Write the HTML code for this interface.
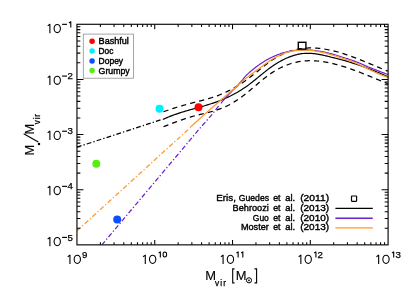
<!DOCTYPE html>
<html><head><meta charset="utf-8"><title>plot</title>
<style>
html,body{margin:0;padding:0;background:#fff;}
svg{display:block;will-change:transform;}
text{font-family:"Liberation Sans",sans-serif;fill:#000;}
</style></head><body>
<svg width="411" height="294" viewBox="0 0 411 294">
<rect width="411" height="294" fill="#fff"/>
<!-- curves -->
<g fill="none" stroke-linecap="butt" stroke-linejoin="round">
<path d="M76.90,147.20 L161.00,119.80" stroke="#000" stroke-width="1.25" stroke-dasharray="4.8 2.15 1.3 2.14"/>
<path d="M76.90,230.90 L188.00,129.70" stroke="#ff9a2e" stroke-width="1.25" stroke-dasharray="4.8 2.15 1.3 2.14" stroke-dashoffset="-0.18"/>
<path d="M102.10,244.60 L200.50,127.60 L211.70,114.90 L219.90,104.40" stroke="#6a22cc" stroke-width="1.25" stroke-dasharray="4.8 2.15 1.3 2.14" stroke-dashoffset="0.47"/>
<path d="M163.50,111.77 L164.91,111.26 L166.32,110.76 L167.73,110.27 L169.14,109.78 L170.55,109.31 L171.96,108.84 L173.37,108.38 L174.79,107.93 L176.20,107.49 L177.61,107.06 L179.02,106.63 L180.43,106.21 L181.84,105.80 L183.25,105.39 L184.66,104.99 L186.07,104.60 L187.48,104.21 L188.89,103.82 L190.30,103.45 L191.71,103.07 L193.12,102.70 L194.54,102.34 L195.95,101.98 L197.36,101.62 L198.77,101.26 L200.18,100.90 L201.59,100.53 L203.00,100.16 L204.41,99.78 L205.82,99.40 L207.23,99.00 L208.64,98.59 L210.05,98.17 L211.46,97.74 L212.87,97.29 L214.28,96.83 L215.70,96.34 L217.11,95.83 L218.52,95.30 L219.93,94.75 L221.34,94.18 L222.75,93.58 L224.16,92.95 L225.57,92.30 L226.98,91.63 L228.39,90.93 L229.80,90.21 L231.21,89.47 L232.62,88.70 L234.03,87.90 L235.45,87.09 L236.86,86.25 L238.27,85.38 L239.68,84.49 L241.09,83.58 L242.50,82.65 L243.91,81.69 L245.32,80.71 L246.73,79.70 L248.14,78.67 L249.55,77.62 L250.96,76.54 L252.37,75.45 L253.78,74.33 L255.19,73.20 L256.61,72.06 L258.02,70.91 L259.43,69.77 L260.84,68.62 L262.25,67.49 L263.66,66.36 L265.07,65.25 L266.48,64.16 L267.89,63.09 L269.30,62.05 L270.71,61.04 L272.12,60.07 L273.53,59.14 L274.94,58.25 L276.36,57.41 L277.77,56.60 L279.18,55.83 L280.59,55.10 L282.00,54.42 L283.41,53.77 L284.82,53.16 L286.23,52.58 L287.64,52.04 L289.05,51.54 L290.46,51.08 L291.87,50.64 L293.28,50.25 L294.69,49.88 L296.11,49.55 L297.52,49.26 L298.93,48.99 L300.34,48.76 L301.75,48.55 L303.16,48.38 L304.57,48.24 L305.98,48.12 L307.39,48.04 L308.80,47.98 L310.21,47.95 L311.62,47.95 L313.03,47.97 L314.44,48.02 L315.85,48.09 L317.27,48.18 L318.68,48.31 L320.09,48.45 L321.50,48.62 L322.91,48.81 L324.32,49.02 L325.73,49.25 L327.14,49.50 L328.55,49.77 L329.96,50.06 L331.37,50.37 L332.78,50.69 L334.19,51.04 L335.60,51.40 L337.02,51.77 L338.43,52.17 L339.84,52.57 L341.25,53.00 L342.66,53.43 L344.07,53.88 L345.48,54.34 L346.89,54.82 L348.30,55.30 L349.71,55.80 L351.12,56.30 L352.53,56.82 L353.94,57.35 L355.35,57.88 L356.76,58.42 L358.18,58.97 L359.59,59.53 L361.00,60.09 L362.41,60.66 L363.82,61.23 L365.23,61.81 L366.64,62.39 L368.05,62.97 L369.46,63.56 L370.87,64.15 L372.28,64.74 L373.69,65.33 L375.10,65.93 L376.51,66.52 L377.93,67.11 L379.34,67.70 L380.75,68.29 L382.16,68.87 L383.57,69.45 L384.98,70.03 L386.39,70.61 L387.80,71.18" stroke="#000" stroke-width="1.25" stroke-dasharray="5.2 4.1"/>
<path d="M163.50,126.75 L164.91,126.20 L166.32,125.64 L167.73,125.09 L169.14,124.54 L170.55,123.99 L171.96,123.44 L173.37,122.90 L174.79,122.37 L176.20,121.84 L177.61,121.32 L179.02,120.80 L180.43,120.30 L181.84,119.80 L183.25,119.32 L184.66,118.84 L186.07,118.38 L187.48,117.92 L188.89,117.48 L190.30,117.06 L191.71,116.65 L193.12,116.25 L194.54,115.87 L195.95,115.50 L197.36,115.14 L198.77,114.79 L200.18,114.44 L201.59,114.10 L203.00,113.76 L204.41,113.42 L205.82,113.07 L207.23,112.72 L208.64,112.36 L210.05,111.99 L211.46,111.61 L212.87,111.22 L214.28,110.80 L215.70,110.37 L217.11,109.92 L218.52,109.44 L219.93,108.94 L221.34,108.41 L222.75,107.85 L224.16,107.25 L225.57,106.62 L226.98,105.95 L228.39,105.25 L229.80,104.50 L231.21,103.72 L232.62,102.89 L234.03,102.03 L235.45,101.14 L236.86,100.22 L238.27,99.26 L239.68,98.28 L241.09,97.26 L242.50,96.22 L243.91,95.15 L245.32,94.06 L246.73,92.95 L248.14,91.82 L249.55,90.67 L250.96,89.50 L252.37,88.31 L253.78,87.12 L255.19,85.93 L256.61,84.73 L258.02,83.53 L259.43,82.34 L260.84,81.16 L262.25,80.00 L263.66,78.86 L265.07,77.73 L266.48,76.64 L267.89,75.58 L269.30,74.55 L270.71,73.56 L272.12,72.61 L273.53,71.70 L274.94,70.83 L276.36,70.00 L277.77,69.21 L279.18,68.46 L280.59,67.74 L282.00,67.07 L283.41,66.43 L284.82,65.82 L286.23,65.26 L287.64,64.73 L289.05,64.23 L290.46,63.77 L291.87,63.34 L293.28,62.95 L294.69,62.59 L296.11,62.27 L297.52,61.97 L298.93,61.71 L300.34,61.48 L301.75,61.28 L303.16,61.11 L304.57,60.98 L305.98,60.87 L307.39,60.79 L308.80,60.74 L310.21,60.72 L311.62,60.72 L313.03,60.75 L314.44,60.81 L315.85,60.89 L317.27,61.00 L318.68,61.13 L320.09,61.29 L321.50,61.46 L322.91,61.66 L324.32,61.88 L325.73,62.11 L327.14,62.37 L328.55,62.65 L329.96,62.94 L331.37,63.25 L332.78,63.58 L334.19,63.92 L335.60,64.28 L337.02,64.65 L338.43,65.04 L339.84,65.44 L341.25,65.85 L342.66,66.28 L344.07,66.72 L345.48,67.17 L346.89,67.63 L348.30,68.10 L349.71,68.58 L351.12,69.07 L352.53,69.57 L353.94,70.08 L355.35,70.60 L356.76,71.13 L358.18,71.66 L359.59,72.20 L361.00,72.75 L362.41,73.31 L363.82,73.87 L365.23,74.43 L366.64,75.00 L368.05,75.58 L369.46,76.16 L370.87,76.74 L372.28,77.33 L373.69,77.91 L375.10,78.50 L376.51,79.10 L377.93,79.69 L379.34,80.28 L380.75,80.88 L382.16,81.47 L383.57,82.07 L384.98,82.66 L386.39,83.25 L387.80,83.84" stroke="#000" stroke-width="1.25" stroke-dasharray="5.2 4.1"/>
<path d="M162.80,119.50 L164.22,118.83 L165.64,118.20 L167.05,117.58 L168.47,116.99 L169.89,116.42 L171.31,115.86 L172.72,115.33 L174.14,114.81 L175.56,114.31 L176.98,113.82 L178.39,113.34 L179.81,112.88 L181.23,112.44 L182.65,112.00 L184.06,111.57 L185.48,111.15 L186.90,110.73 L188.32,110.33 L189.73,109.93 L191.15,109.53 L192.57,109.13 L193.99,108.74 L195.41,108.35 L196.82,107.96 L198.24,107.56 L199.66,107.17 L201.08,106.77 L202.49,106.37 L203.91,105.96 L205.33,105.54 L206.75,105.12 L208.16,104.68 L209.58,104.24 L211.00,103.78 L212.42,103.32 L213.83,102.84 L215.25,102.34 L216.67,101.83 L218.09,101.31 L219.50,100.77 L220.92,100.21 L222.34,99.63 L223.76,99.03 L225.17,98.42 L226.59,97.78 L228.01,97.13 L229.43,96.45 L230.85,95.75 L232.26,95.03 L233.68,94.29 L235.10,93.52 L236.52,92.72 L237.93,91.91 L239.35,91.06 L240.77,90.19 L242.19,89.30 L243.60,88.37 L245.02,87.42 L246.44,86.44 L247.86,85.42 L249.27,84.38 L250.69,83.31 L252.11,82.21 L253.53,81.09 L254.94,79.95 L256.36,78.80 L257.78,77.64 L259.20,76.47 L260.62,75.30 L262.03,74.14 L263.45,72.99 L264.87,71.85 L266.29,70.73 L267.70,69.63 L269.12,68.56 L270.54,67.52 L271.96,66.51 L273.37,65.53 L274.79,64.59 L276.21,63.68 L277.63,62.81 L279.04,61.97 L280.46,61.17 L281.88,60.40 L283.30,59.67 L284.71,58.97 L286.13,58.31 L287.55,57.69 L288.97,57.11 L290.38,56.57 L291.80,56.07 L293.22,55.60 L294.64,55.18 L296.06,54.80 L297.47,54.46 L298.89,54.16 L300.31,53.90 L301.73,53.69 L303.14,53.52 L304.56,53.39 L305.98,53.31 L307.40,53.28 L308.81,53.28 L310.23,53.33 L311.65,53.42 L313.07,53.54 L314.48,53.69 L315.90,53.88 L317.32,54.09 L318.74,54.33 L320.15,54.59 L321.57,54.88 L322.99,55.18 L324.41,55.49 L325.83,55.82 L327.24,56.16 L328.66,56.50 L330.08,56.86 L331.50,57.21 L332.91,57.56 L334.33,57.92 L335.75,58.29 L337.17,58.65 L338.58,59.02 L340.00,59.40 L341.42,59.77 L342.84,60.16 L344.25,60.54 L345.67,60.94 L347.09,61.34 L348.51,61.75 L349.92,62.20 L351.34,62.66 L352.76,63.12 L354.18,63.58 L355.59,64.05 L357.01,64.53 L358.43,65.01 L359.85,65.50 L361.27,66.00 L362.68,66.50 L364.10,67.00 L365.52,67.52 L366.94,68.04 L368.35,68.58 L369.77,69.12 L371.19,69.67 L372.61,70.23 L374.02,70.80 L375.44,71.38 L376.86,71.96 L378.28,72.55 L379.69,73.14 L381.11,73.74 L382.53,74.36 L383.95,74.98 L385.36,75.62 L386.78,76.27 L388.20,76.93" stroke="#000" stroke-width="1.2"/>
<path d="M220.92,103.28 L221.70,102.34 L222.49,101.40 L223.28,100.46 L224.06,99.53 L224.85,98.66 L225.63,97.81 L226.42,96.95 L227.20,96.11 L227.99,95.27 L228.77,94.44 L229.56,93.61 L230.34,92.79 L231.13,91.98 L231.91,91.17 L232.70,90.38 L233.48,89.63 L234.27,88.88 L235.06,88.12 L235.84,87.35 L236.63,86.53 L237.41,85.68 L238.20,84.80 L238.98,83.91 L239.77,83.01 L240.55,82.11 L241.34,81.22 L242.12,80.31 L242.91,79.36 L243.69,78.37 L244.48,77.38 L245.27,76.43 L246.05,75.56 L246.84,74.80 L247.62,74.07 L248.41,73.36 L249.19,72.65 L249.98,71.96 L250.76,71.28 L251.55,70.62 L252.33,69.96 L253.12,69.31 L253.90,68.68 L254.69,68.06 L255.47,67.45 L256.26,66.85 L257.05,66.26 L257.83,65.69 L258.62,65.12 L259.40,64.57 L260.19,64.03 L260.97,63.49 L261.76,62.97 L262.54,62.46 L263.33,61.97 L264.11,61.48 L264.90,61.00 L265.68,60.54 L266.47,60.08 L267.26,59.64 L268.04,59.20 L268.83,58.78 L269.61,58.37 L270.40,57.96 L271.18,57.57 L271.97,57.19 L272.75,56.82 L273.54,56.46 L274.32,56.11 L275.11,55.77 L275.89,55.44 L276.68,55.12 L277.46,54.81 L278.25,54.51 L279.04,54.22 L279.82,53.94 L280.61,53.67 L281.39,53.40 L282.18,53.15 L282.96,52.91 L283.75,52.68 L284.53,52.46 L285.32,52.24 L286.10,52.04 L286.89,51.85 L287.67,51.66 L288.46,51.49 L289.25,51.32 L290.03,51.16 L290.82,51.02 L291.60,50.88 L292.39,50.75 L293.17,50.63 L293.96,50.51 L294.74,50.41 L295.53,50.32 L296.31,50.23 L297.10,50.16 L297.88,50.09 L298.67,50.03 L299.45,49.98 L300.24,49.93 L301.03,49.90 L301.81,49.87 L302.60,49.85 L303.38,49.84 L304.17,49.84 L304.95,49.84 L305.74,49.86 L306.52,49.88 L307.31,49.90 L308.09,49.94 L308.88,49.98 L309.66,50.03 L310.45,50.08 L311.24,50.15 L312.02,50.22 L312.81,50.29 L313.59,50.37 L314.38,50.46 L315.16,50.56 L315.95,50.66 L316.73,50.77 L317.52,50.89 L318.30,51.01 L319.09,51.13 L319.87,51.27 L320.66,51.41 L321.44,51.55 L322.23,51.70 L323.02,51.86 L323.80,52.02 L324.59,52.18 L325.37,52.35 L326.16,52.53 L326.94,52.71 L327.73,52.90 L328.51,53.09 L329.30,53.29 L330.08,53.49 L330.87,53.69 L331.65,53.90 L332.44,54.12 L333.23,54.34 L334.01,54.56 L334.80,54.79 L335.58,55.02 L336.37,55.25 L337.15,55.49 L337.94,55.73 L338.72,55.98 L339.51,56.23 L340.29,56.48 L341.08,56.73 L341.86,56.98 L342.65,57.22 L343.43,57.47 L344.22,57.71 L345.01,57.96 L345.79,58.20 L346.58,58.45 L347.36,58.69 L348.15,58.94 L348.93,59.20 L349.72,59.45 L350.50,59.72 L351.29,59.98 L352.07,60.25 L352.86,60.53 L353.64,60.82 L354.43,61.11 L355.22,61.41 L356.00,61.72 L356.79,62.03 L357.57,62.34 L358.36,62.66 L359.14,62.98 L359.93,63.30 L360.71,63.63 L361.50,63.97 L362.28,64.30 L363.07,64.64 L363.85,64.99 L364.64,65.33 L365.42,65.68 L366.21,66.03 L367.00,66.38 L367.78,66.74 L368.57,67.07 L369.35,67.38 L370.14,67.69 L370.92,68.00 L371.71,68.32 L372.49,68.63 L373.28,68.94 L374.06,69.25 L374.85,69.56 L375.63,69.87 L376.42,70.18 L377.21,70.48 L377.99,70.79 L378.78,71.09 L379.56,71.40 L380.35,71.70 L381.13,72.00 L381.92,72.30 L382.70,72.60 L383.49,72.89 L384.27,73.18 L385.06,73.48 L385.84,73.76 L386.63,74.05 L387.41,74.34 L388.20,74.62" stroke="#6a22cc" stroke-width="1.2"/>
<path d="M190.00,127.55 L191.25,126.39 L192.49,125.24 L193.74,124.09 L194.99,122.95 L196.23,121.81 L197.48,120.68 L198.73,119.55 L199.97,118.43 L201.22,117.31 L202.47,116.20 L203.71,115.09 L204.96,113.98 L206.21,112.88 L207.45,111.78 L208.70,110.68 L209.94,109.59 L211.19,108.50 L212.44,107.41 L213.68,106.32 L214.93,105.24 L216.18,104.15 L217.42,103.07 L218.67,101.99 L219.92,100.91 L221.16,99.83 L222.41,98.75 L223.66,97.67 L224.90,96.59 L226.15,95.51 L227.40,94.43 L228.64,93.34 L229.89,92.26 L231.14,91.18 L232.38,90.09 L233.63,89.00 L234.88,87.91 L236.12,86.82 L237.37,85.73 L238.62,84.64 L239.86,83.55 L241.11,82.46 L242.35,81.37 L243.60,80.29 L244.85,79.21 L246.09,78.22 L247.34,77.25 L248.59,76.29 L249.83,75.33 L251.08,74.38 L252.33,73.44 L253.57,72.51 L254.82,71.59 L256.07,70.69 L257.31,69.81 L258.56,68.93 L259.81,68.02 L261.05,67.08 L262.30,66.15 L263.55,65.22 L264.79,64.31 L266.04,63.42 L267.29,62.54 L268.53,61.69 L269.78,60.87 L271.03,60.07 L272.27,59.29 L273.52,58.53 L274.76,57.81 L276.01,57.11 L277.26,56.45 L278.50,55.81 L279.75,55.22 L281.00,54.66 L282.24,54.12 L283.49,53.62 L284.74,53.15 L285.98,52.72 L287.23,52.33 L288.48,51.97 L289.72,51.66 L290.97,51.38 L292.22,51.14 L293.46,50.92 L294.71,50.72 L295.96,50.56 L297.20,50.42 L298.45,50.30 L299.70,50.22 L300.94,50.15 L302.19,50.11 L303.44,50.09 L304.68,50.10 L305.93,50.13 L307.17,50.18 L308.42,50.25 L309.67,50.34 L310.91,50.46 L312.16,50.59 L313.41,50.74 L314.65,50.91 L315.90,51.10 L317.15,51.31 L318.39,51.54 L319.64,51.78 L320.89,52.04 L322.13,52.31 L323.38,52.60 L324.63,52.91 L325.87,53.23 L327.12,53.56 L328.37,53.91 L329.61,54.27 L330.86,54.64 L332.11,55.00 L333.35,55.36 L334.60,55.72 L335.85,56.09 L337.09,56.47 L338.34,56.86 L339.58,57.26 L340.83,57.67 L342.08,58.08 L343.32,58.50 L344.57,58.93 L345.82,59.36 L347.06,59.78 L348.31,60.21 L349.56,60.65 L350.80,61.09 L352.05,61.55 L353.30,62.03 L354.54,62.53 L355.79,63.06 L357.04,63.63 L358.28,64.21 L359.53,64.81 L360.78,65.43 L362.02,66.04 L363.27,66.66 L364.52,67.27 L365.76,67.87 L367.01,68.46 L368.26,69.06 L369.50,69.66 L370.75,70.25 L371.99,70.84 L373.24,71.44 L374.49,72.00 L375.73,72.54 L376.98,73.07 L378.23,73.59 L379.47,74.12 L380.72,74.64 L381.97,75.15 L383.21,75.66 L384.46,76.17 L385.71,76.67 L386.95,77.17 L388.20,77.66" stroke="#ff9a2e" stroke-width="1.3"/>
</g>
<!-- points -->
<circle cx="159.5" cy="108.7" r="4" fill="#00f0ff"/>
<circle cx="198.5" cy="107.3" r="4" fill="#ff0000"/>
<circle cx="96.3" cy="163.8" r="4" fill="#55ee11"/>
<circle cx="117.2" cy="219.4" r="4" fill="#0a50ff"/>
<rect x="298.3" y="42.3" width="7.6" height="6.8" fill="none" stroke="#000" stroke-width="1.4"/>
<!-- axes -->
<rect x="76.95" y="24.3" width="311.15000000000003" height="220.54999999999998" fill="none" stroke="#111" stroke-width="1.2"/>
<path d="M100.37,244.85 v-2.65 M100.37,24.3 v2.65 M76.95,228.25 h3.4 M388.1,228.25 h-3.4 M114.06,244.85 v-2.65 M114.06,24.3 v2.65 M76.95,218.54 h3.4 M388.1,218.54 h-3.4 M123.78,244.85 v-2.65 M123.78,24.3 v2.65 M76.95,211.65 h3.4 M388.1,211.65 h-3.4 M131.32,244.85 v-2.65 M131.32,24.3 v2.65 M76.95,206.31 h3.4 M388.1,206.31 h-3.4 M137.48,244.85 v-2.65 M137.48,24.3 v2.65 M76.95,201.94 h3.4 M388.1,201.94 h-3.4 M142.69,244.85 v-2.65 M142.69,24.3 v2.65 M76.95,198.25 h3.4 M388.1,198.25 h-3.4 M147.20,244.85 v-2.65 M147.20,24.3 v2.65 M76.95,195.06 h3.4 M388.1,195.06 h-3.4 M151.18,244.85 v-2.65 M151.18,24.3 v2.65 M76.95,192.24 h3.4 M388.1,192.24 h-3.4 M154.74,244.85 v-4.9 M154.74,24.3 v4.9 M76.95,189.71 h6.5 M388.1,189.71 h-6.5 M178.15,244.85 v-2.65 M178.15,24.3 v2.65 M76.95,173.11 h3.4 M388.1,173.11 h-3.4 M191.85,244.85 v-2.65 M191.85,24.3 v2.65 M76.95,163.41 h3.4 M388.1,163.41 h-3.4 M201.57,244.85 v-2.65 M201.57,24.3 v2.65 M76.95,156.52 h3.4 M388.1,156.52 h-3.4 M209.11,244.85 v-2.65 M209.11,24.3 v2.65 M76.95,151.17 h3.4 M388.1,151.17 h-3.4 M215.27,244.85 v-2.65 M215.27,24.3 v2.65 M76.95,146.81 h3.4 M388.1,146.81 h-3.4 M220.48,244.85 v-2.65 M220.48,24.3 v2.65 M76.95,143.12 h3.4 M388.1,143.12 h-3.4 M224.99,244.85 v-2.65 M224.99,24.3 v2.65 M76.95,139.92 h3.4 M388.1,139.92 h-3.4 M228.97,244.85 v-2.65 M228.97,24.3 v2.65 M76.95,137.10 h3.4 M388.1,137.10 h-3.4 M232.53,244.85 v-4.9 M232.53,24.3 v4.9 M76.95,134.57 h6.5 M388.1,134.57 h-6.5 M255.94,244.85 v-2.65 M255.94,24.3 v2.65 M76.95,117.98 h3.4 M388.1,117.98 h-3.4 M269.64,244.85 v-2.65 M269.64,24.3 v2.65 M76.95,108.27 h3.4 M388.1,108.27 h-3.4 M279.36,244.85 v-2.65 M279.36,24.3 v2.65 M76.95,101.38 h3.4 M388.1,101.38 h-3.4 M286.90,244.85 v-2.65 M286.90,24.3 v2.65 M76.95,96.04 h3.4 M388.1,96.04 h-3.4 M293.06,244.85 v-2.65 M293.06,24.3 v2.65 M76.95,91.67 h3.4 M388.1,91.67 h-3.4 M298.26,244.85 v-2.65 M298.26,24.3 v2.65 M76.95,87.98 h3.4 M388.1,87.98 h-3.4 M302.77,244.85 v-2.65 M302.77,24.3 v2.65 M76.95,84.78 h3.4 M388.1,84.78 h-3.4 M306.75,244.85 v-2.65 M306.75,24.3 v2.65 M76.95,81.96 h3.4 M388.1,81.96 h-3.4 M310.31,244.85 v-4.9 M310.31,24.3 v4.9 M76.95,79.44 h6.5 M388.1,79.44 h-6.5 M333.73,244.85 v-2.65 M333.73,24.3 v2.65 M76.95,62.84 h3.4 M388.1,62.84 h-3.4 M347.43,244.85 v-2.65 M347.43,24.3 v2.65 M76.95,53.13 h3.4 M388.1,53.13 h-3.4 M357.15,244.85 v-2.65 M357.15,24.3 v2.65 M76.95,46.24 h3.4 M388.1,46.24 h-3.4 M364.68,244.85 v-2.65 M364.68,24.3 v2.65 M76.95,40.90 h3.4 M388.1,40.90 h-3.4 M370.84,244.85 v-2.65 M370.84,24.3 v2.65 M76.95,36.53 h3.4 M388.1,36.53 h-3.4 M376.05,244.85 v-2.65 M376.05,24.3 v2.65 M76.95,32.84 h3.4 M388.1,32.84 h-3.4 M380.56,244.85 v-2.65 M380.56,24.3 v2.65 M76.95,29.64 h3.4 M388.1,29.64 h-3.4 M384.54,244.85 v-2.65 M384.54,24.3 v2.65 M76.95,26.82 h3.4 M388.1,26.82 h-3.4" stroke="#000" stroke-width="1.05" fill="none"/>
<!-- legend top-left -->
<rect x="83.3" y="34.1" width="50.2" height="44.1" fill="#fff" stroke="#909090" stroke-width="0.8"/>
<circle cx="92.1" cy="41.3" r="2.75" fill="#ff0000"/>
<circle cx="92.1" cy="51.0" r="2.75" fill="#00f0ff"/>
<circle cx="92.1" cy="61.0" r="2.75" fill="#0a50ff"/>
<circle cx="92.1" cy="70.5" r="2.75" fill="#55ee11"/>
<g font-size="9.0" stroke="#000" stroke-width="0.42">
<text x="98.6" y="44.4" textLength="30.3" lengthAdjust="spacingAndGlyphs">Bashful</text>
<text x="98.6" y="54.1" textLength="14.8" lengthAdjust="spacingAndGlyphs">Doc</text>
<text x="98.6" y="64.0" textLength="24.5" lengthAdjust="spacingAndGlyphs">Dopey</text>
<text x="98.6" y="73.6" textLength="31.1" lengthAdjust="spacingAndGlyphs">Grumpy</text>
</g>
<!-- legend bottom-right -->
<g font-size="9.3" stroke="#000" stroke-width="0.38">
<text x="216.3" y="201.4" textLength="19.6" lengthAdjust="spacingAndGlyphs">Eris,</text><text x="238.8" y="201.4" textLength="30.2" lengthAdjust="spacingAndGlyphs">Guedes</text><text x="273.2" y="201.4" textLength="7.4" lengthAdjust="spacingAndGlyphs">et</text><text x="285.2" y="201.4" textLength="9.9" lengthAdjust="spacingAndGlyphs">al.</text><text x="300.2" y="201.4" textLength="28.9" lengthAdjust="spacingAndGlyphs">(2011)</text>
<text x="232.6" y="210.9" textLength="36.2" lengthAdjust="spacingAndGlyphs">Behroozi</text><text x="273.2" y="210.9" textLength="7.4" lengthAdjust="spacingAndGlyphs">et</text><text x="285.2" y="210.9" textLength="9.9" lengthAdjust="spacingAndGlyphs">al.</text><text x="300.2" y="210.9" textLength="28.9" lengthAdjust="spacingAndGlyphs">(2013)</text>
<text x="252.8" y="220.6" textLength="16.0" lengthAdjust="spacingAndGlyphs">Guo</text><text x="273.2" y="220.6" textLength="7.4" lengthAdjust="spacingAndGlyphs">et</text><text x="285.2" y="220.6" textLength="9.9" lengthAdjust="spacingAndGlyphs">al.</text><text x="300.2" y="220.6" textLength="28.9" lengthAdjust="spacingAndGlyphs">(2010)</text>
<text x="240.9" y="230.3" textLength="27.9" lengthAdjust="spacingAndGlyphs">Moster</text><text x="273.2" y="230.3" textLength="7.4" lengthAdjust="spacingAndGlyphs">et</text><text x="285.2" y="230.3" textLength="9.9" lengthAdjust="spacingAndGlyphs">al.</text><text x="300.2" y="230.3" textLength="28.9" lengthAdjust="spacingAndGlyphs">(2013)</text>
</g>
<rect x="351.5" y="196.0" width="5.1" height="5.3" rx="0.5" fill="none" stroke="#000" stroke-width="1.2"/>
<path d="M335.4,208.35 H372.8" stroke="#000" stroke-width="1.3"/>
<path d="M335.4,218.3 H372.8" stroke="#6a22cc" stroke-width="1.4"/>
<path d="M335.4,227.9 H372.8" stroke="#ffb660" stroke-width="1.6"/>
<!-- tick labels -->
<path d="M47.70,25.90 L49.90,24.29 V33.20" fill="none" stroke="#000" stroke-width="1.1" stroke-linejoin="round"/><ellipse cx="57.25" cy="28.55" rx="3.15" ry="4.1" fill="none" stroke="#000" stroke-width="1.1"/><path d="M62.1,24.35 H67.0" stroke="#000" stroke-width="1.15" fill="none"/><path d="M68.90,23.05 L70.80,21.74 V27.45" fill="none" stroke="#000" stroke-width="1.1" stroke-linejoin="round"/><path d="M47.70,77.64 L49.90,76.02 V84.94" fill="none" stroke="#000" stroke-width="1.1" stroke-linejoin="round"/><ellipse cx="57.25" cy="80.29" rx="3.15" ry="4.1" fill="none" stroke="#000" stroke-width="1.1"/><path d="M62.1,76.09 H67.0" stroke="#000" stroke-width="1.15" fill="none"/><text x="67.50" y="79.19" font-size="8.8" textLength="5.4" lengthAdjust="spacingAndGlyphs" stroke="#000" stroke-width="0.25">2</text><path d="M47.70,132.77 L49.90,131.16 V140.07" fill="none" stroke="#000" stroke-width="1.1" stroke-linejoin="round"/><ellipse cx="57.25" cy="135.42" rx="3.15" ry="4.1" fill="none" stroke="#000" stroke-width="1.1"/><path d="M62.1,131.22 H67.0" stroke="#000" stroke-width="1.15" fill="none"/><text x="67.50" y="134.32" font-size="8.8" textLength="5.4" lengthAdjust="spacingAndGlyphs" stroke="#000" stroke-width="0.25">3</text><path d="M47.70,187.91 L49.90,186.30 V195.21" fill="none" stroke="#000" stroke-width="1.1" stroke-linejoin="round"/><ellipse cx="57.25" cy="190.56" rx="3.15" ry="4.1" fill="none" stroke="#000" stroke-width="1.1"/><path d="M62.1,186.36 H67.0" stroke="#000" stroke-width="1.15" fill="none"/><text x="67.50" y="189.46" font-size="8.8" textLength="5.4" lengthAdjust="spacingAndGlyphs" stroke="#000" stroke-width="0.25">4</text><path d="M47.70,238.95 L49.90,237.33 V246.25" fill="none" stroke="#000" stroke-width="1.1" stroke-linejoin="round"/><ellipse cx="57.25" cy="241.60" rx="3.15" ry="4.1" fill="none" stroke="#000" stroke-width="1.1"/><path d="M62.1,237.40 H67.0" stroke="#000" stroke-width="1.15" fill="none"/><text x="67.50" y="240.50" font-size="8.8" textLength="5.4" lengthAdjust="spacingAndGlyphs" stroke="#000" stroke-width="0.25">5</text><path d="M67.75,256.70 L69.95,255.08 V264.00" fill="none" stroke="#000" stroke-width="1.1" stroke-linejoin="round"/><ellipse cx="77.30" cy="259.35" rx="3.15" ry="4.1" fill="none" stroke="#000" stroke-width="1.1"/><text x="82.00" y="257.60" font-size="8.8" textLength="5.4" lengthAdjust="spacingAndGlyphs" stroke="#000" stroke-width="0.25">9</text><path d="M143.09,256.70 L145.29,255.08 V264.00" fill="none" stroke="#000" stroke-width="1.1" stroke-linejoin="round"/><ellipse cx="152.64" cy="259.35" rx="3.15" ry="4.1" fill="none" stroke="#000" stroke-width="1.1"/><path d="M158.64,253.00 L160.34,251.89 V257.60" fill="none" stroke="#000" stroke-width="1.1" stroke-linejoin="round"/><ellipse cx="164.84" cy="254.55" rx="1.8" ry="2.5" fill="none" stroke="#000" stroke-width="1.05"/><path d="M220.88,256.70 L223.08,255.08 V264.00" fill="none" stroke="#000" stroke-width="1.1" stroke-linejoin="round"/><ellipse cx="230.43" cy="259.35" rx="3.15" ry="4.1" fill="none" stroke="#000" stroke-width="1.1"/><path d="M236.43,253.00 L238.13,251.89 V257.60" fill="none" stroke="#000" stroke-width="1.1" stroke-linejoin="round"/><path d="M241.13,253.00 L242.83,251.89 V257.60" fill="none" stroke="#000" stroke-width="1.1" stroke-linejoin="round"/><path d="M298.66,256.70 L300.86,255.08 V264.00" fill="none" stroke="#000" stroke-width="1.1" stroke-linejoin="round"/><ellipse cx="308.21" cy="259.35" rx="3.15" ry="4.1" fill="none" stroke="#000" stroke-width="1.1"/><path d="M314.21,253.00 L315.91,251.89 V257.60" fill="none" stroke="#000" stroke-width="1.1" stroke-linejoin="round"/><text x="317.61" y="257.60" font-size="8.8" textLength="5.4" lengthAdjust="spacingAndGlyphs" stroke="#000" stroke-width="0.25">2</text><path d="M376.45,256.70 L378.65,255.08 V264.00" fill="none" stroke="#000" stroke-width="1.1" stroke-linejoin="round"/><ellipse cx="386.00" cy="259.35" rx="3.15" ry="4.1" fill="none" stroke="#000" stroke-width="1.1"/><path d="M392.00,253.00 L393.70,251.89 V257.60" fill="none" stroke="#000" stroke-width="1.1" stroke-linejoin="round"/><text x="395.40" y="257.60" font-size="8.8" textLength="5.4" lengthAdjust="spacingAndGlyphs" stroke="#000" stroke-width="0.25">3</text>
<!-- x title -->
<text x="205.3" y="279.5" font-size="12.9" stroke="#000" stroke-width="0.12">M</text>
<text x="215.0" y="285.7" font-size="8.3" textLength="10.9" lengthAdjust="spacing" stroke="#000" stroke-width="0.25">vir</text>
<path d="M234.5,268.9 H232.7 V282.9 H234.5 M254.5,268.9 H256.6 V282.9 H254.5" fill="none" stroke="#000" stroke-width="1.1"/>
<text x="235.7" y="279.5" font-size="12.9" stroke="#000" stroke-width="0.12">M</text>
<circle cx="249.0" cy="280.3" r="2.55" fill="none" stroke="#000" stroke-width="1"/>
<circle cx="249.0" cy="280.3" r="0.9" fill="#000"/>
<!-- y title -->
<g transform="translate(34.1,154.5) rotate(-90)">
<text x="-1.0" y="0" font-size="12.9" stroke="#000" stroke-width="0.12">M</text>
<circle cx="10.5" cy="4.9" r="1.25" fill="#000"/>
<path d="M12.6,4.2 L20.7,-10.4" stroke="#000" stroke-width="1.1" fill="none"/>
<text x="20.1" y="0" font-size="12.9" stroke="#000" stroke-width="0.12">M</text>
<text x="30.3" y="5.9" font-size="8.2" textLength="10.3" lengthAdjust="spacing" stroke="#000" stroke-width="0.25">vir</text>
</g>
</svg>
</body></html>
